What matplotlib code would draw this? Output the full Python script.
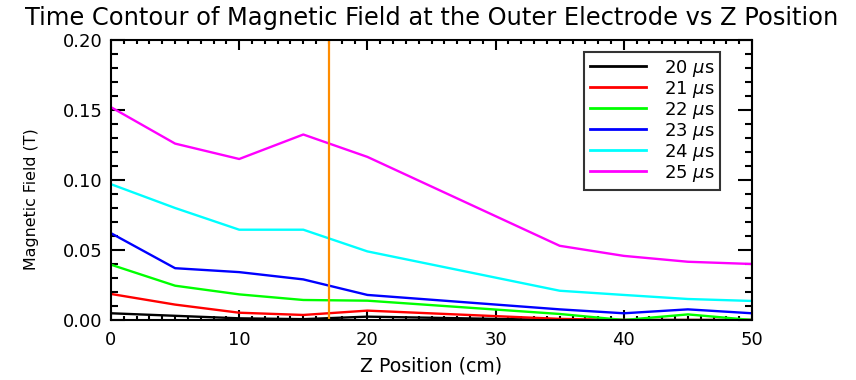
import matplotlib
matplotlib.use("Agg")
import matplotlib.pyplot as plt
from matplotlib.ticker import MultipleLocator

z_cm = [0, 5, 10, 15, 20, 35, 40, 45, 50]
labels = [r"20 $\mu$s", r"21 $\mu$s", r"22 $\mu$s", r"23 $\mu$s", r"24 $\mu$s", r"25 $\mu$s"]
b20 = [0.0048, 0.0030, 0.0012, 0.0006, 0.0024, 0.0000, 0.0000, 0.0000, 0.0000]
b21 = [0.0186, 0.0110, 0.0052, 0.0036, 0.0067, 0.0008, 0.0000, 0.0000, 0.0000]
b22 = [0.0395, 0.0245, 0.0183, 0.0143, 0.0138, 0.0043, 0.0000, 0.0040, 0.0000]
b23 = [0.0620, 0.0370, 0.0342, 0.0290, 0.0179, 0.0076, 0.0048, 0.0076, 0.0048]
b24 = [0.0970, 0.0800, 0.0645, 0.0645, 0.0490, 0.0209, 0.0179, 0.0150, 0.0136]
b25 = [0.1520, 0.1260, 0.1150, 0.1325, 0.1165, 0.0530, 0.0458, 0.0416, 0.0400]
series = [b20, b21, b22, b23, b24, b25]
colors = ["#000000", "#ff0000", "#00ff00", "#0000ff", "#00ffff", "#ff00ff"]
marker_z = 17

fig = plt.figure(figsize=(8.56, 3.8), dpi=100)
ax = fig.add_axes([111/856, 1-320/380, (752-111)/856, (320-40)/380])

for vals, c, lab in zip(series, colors, labels):
    ax.plot(z_cm, vals, color=c, lw=1.7, label=lab, clip_on=True)
ax.axvline(marker_z, color="#ff8c00", lw=1.6)

ax.set_xlim(0, 50)
ax.set_ylim(0, 0.2)
ax.xaxis.set_major_locator(MultipleLocator(10))
ax.xaxis.set_minor_locator(MultipleLocator(1))
ax.yaxis.set_major_locator(MultipleLocator(0.05))
ax.yaxis.set_minor_locator(MultipleLocator(0.01))
ax.yaxis.set_major_formatter(matplotlib.ticker.FormatStrFormatter("%.2f"))
ax.tick_params(axis="both", which="both", direction="in", top=True, right=True, width=1.5, labelsize=13, colors="black")
ax.tick_params(axis="x", which="major", length=7, pad=8)
ax.tick_params(axis="x", which="minor", length=3)
ax.tick_params(axis="y", which="major", length=10, pad=6)
ax.tick_params(axis="y", which="minor", length=5)
for s in ax.spines.values():
    s.set_linewidth(1.5)

ax.set_title("Time Contour of Magnetic Field at the Outer Electrode vs Z Position", fontsize=17.4, pad=11)
ax.set_xlabel("Z Position (cm)", fontsize=13.6, labelpad=5)
ax.set_ylabel("Magnetic Field (T)", fontsize=11.4)
ax.yaxis.set_label_coords(-0.112, 0.43)

leg = ax.legend(loc="upper right", fontsize=13, frameon=True, fancybox=False, handlelength=3.1,
                labelspacing=0.0, borderpad=0.32, handletextpad=1.0, borderaxespad=0)
leg.get_frame().set_edgecolor("black")
leg.get_frame().set_linewidth(1.5)
leg.set_bbox_to_anchor((720/856, 1-52/380), transform=fig.transFigure)
for h in leg.get_lines():
    h.set_linewidth(2.0)

fig.savefig("out.png", dpi=100)
